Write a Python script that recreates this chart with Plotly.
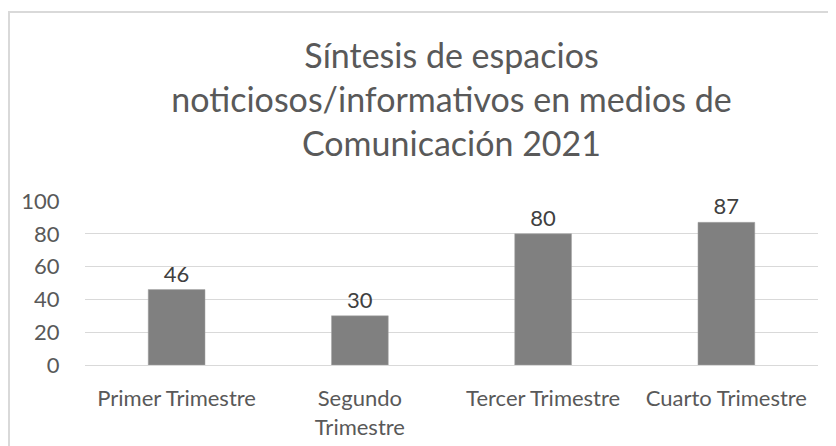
import plotly.graph_objects as go

# Datos del gráfico
trimestres = ['Primer Trimestre', 'Segundo<br>Trimestre', 'Tercer Trimestre', 'Cuarto Trimestre']
espacios = [46, 30, 80, 87]
y_ticks = [0, 20, 40, 60, 80, 100]

titulo = 'Síntesis de espacios<br>noticiosos/informativos en medios de<br>Comunicación 2021'

font_family = 'Lato, "Open Sans", sans-serif'
txt_color = '#595959'

# la página tiene 8px de margen, así que la figura se dibuja un poco más pequeña
W, H = 828, 438
L, R, T, B = 77, 18, 193, 81
pw, ph = W - L - R, H - T - B

fig = go.Figure(go.Bar(
    x=trimestres,
    y=espacios,
    text=espacios,
    textposition='outside',
    cliponaxis=False,
    textfont=dict(size=22, color='#404040', family=font_family),
    marker=dict(color='#808080', line=dict(color='#a6a6a6', width=0.5)),
))

fig.update_layout(
    width=W, height=H,
    margin=dict(l=L, r=R, t=T, b=B),
    paper_bgcolor='white', plot_bgcolor='white',
    bargap=0.69,
    showlegend=False,
    font=dict(family=font_family, color=txt_color),
    title=dict(
        text=titulo,
        x=0.5, xanchor='center', xref='paper',
        y=1 - 60 / H, yanchor='top',
        font=dict(size=34, color=txt_color, family=font_family),
    ),
)

fig.update_xaxes(
    automargin=False,
    showline=False, showgrid=False,
    tickfont=dict(size=22, color=txt_color),
    ticks='outside', ticklen=14, tickcolor='rgba(0,0,0,0)',
)
fig.update_yaxes(
    automargin=False,
    range=[0, 100], tickvals=y_ticks,
    showgrid=True, gridcolor='#d9d9d9', gridwidth=1,
    zeroline=True, zerolinecolor='#d9d9d9', zerolinewidth=1,
    showline=False,
    tickfont=dict(size=22, color=txt_color),
    ticks='outside', ticklen=20, tickcolor='rgba(0,0,0,0)',
)

# borde del área del gráfico
fig.add_shape(type='rect', xref='paper', yref='paper',
              x0=(1 - L) / pw, x1=(W + 10 - L) / pw,
              y0=(H - B - (H + 10)) / ph, y1=(H - B - 4) / ph,
              line=dict(color='#d9d9d9', width=2), layer='below')

fig.write_html('out.html')
